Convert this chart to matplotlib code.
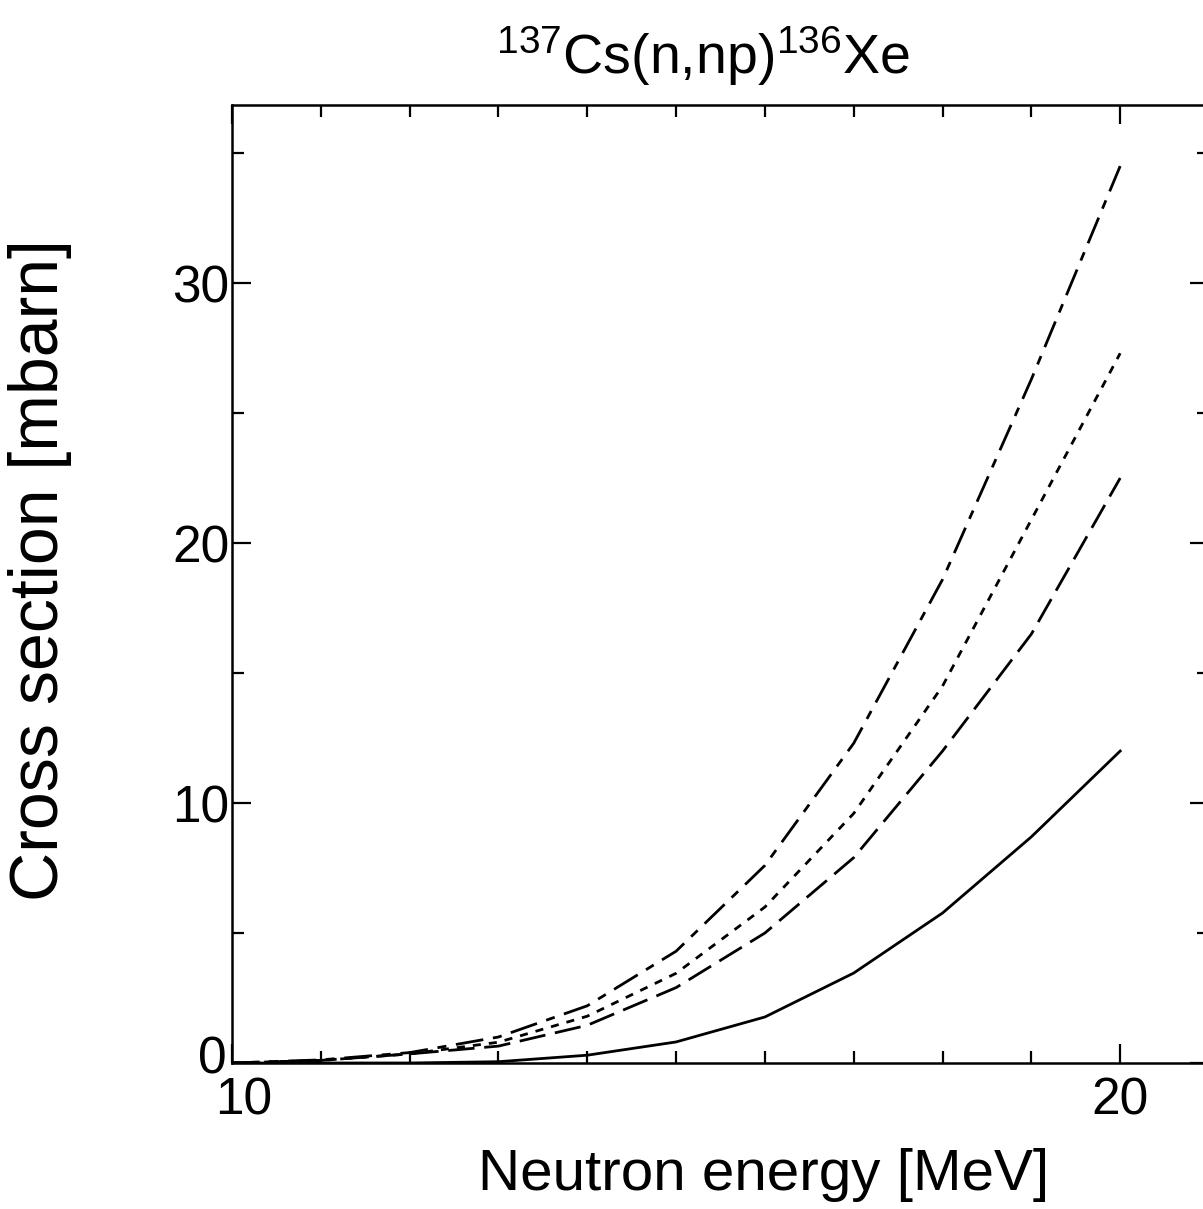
import matplotlib
matplotlib.use("Agg")
import matplotlib.pyplot as plt
import matplotlib.transforms as mtrans
from matplotlib.ticker import MultipleLocator

plt.rcParams['font.family'] = ['Liberation Sans', 'DejaVu Sans']
plt.rcParams['mathtext.fontset'] = 'custom'
plt.rcParams['mathtext.rm'] = 'Liberation Sans'
plt.rcParams['mathtext.default'] = 'regular'
plt.rcParams['lines.scale_dashes'] = False

# neutron energy [MeV]
energy = [10, 11, 12, 13, 14, 15, 16, 17, 18, 19, 20]
# cross sections [mbarn]
sig_solid = [0, 0, 0, 0.05, 0.3, 0.81, 1.77, 3.46, 5.77, 8.7, 12.0]
sig_long = [0, 0.1, 0.35, 0.65, 1.45, 2.9, 5.0, 7.9, 12.0, 16.5, 22.5]
sig_short = [0, 0.1, 0.35, 0.8, 1.8, 3.45, 6.0, 9.6, 14.5, 20.9, 27.3]
sig_dashdot = [0, 0.12, 0.4, 1.0, 2.2, 4.3, 7.6, 12.3, 18.6, 26.3, 34.5]

fig = plt.figure(figsize=(12.03, 12.09), dpi=100)
ax = fig.add_axes([232/1203, 1 - 1063/1209, 977/1203, 958/1209])

lw = 2.0
ax.plot(energy, sig_solid, color='black', lw=lw)
ax.plot(energy, sig_long, color='black', lw=lw, dashes=(19, 7))
ax.plot(energy, sig_short, color='black', lw=lw, dashes=(5.8, 5.8))
ax.plot(energy, sig_dashdot, color='black', lw=lw, dashes=(20, 7, 6.5, 7))

ax.set_xlim(10, 21)
ax.set_ylim(0, 36.85)
ax.xaxis.set_major_locator(MultipleLocator(10))
ax.xaxis.set_minor_locator(MultipleLocator(1))
ax.yaxis.set_major_locator(MultipleLocator(10))
ax.yaxis.set_minor_locator(MultipleLocator(5))
ax.tick_params(which='both', direction='in', top=True, right=True, width=1.6)
ax.tick_params(which='major', length=14, labelsize=37)
ax.tick_params(axis='x', which='major', pad=10)
ax.tick_params(axis='y', which='major', pad=2)
ax.tick_params(which='minor', length=8.5)
for s in ax.spines.values():
    s.set_linewidth(1.8)

# the "10" sits a bit right of its tick, the "0" a bit higher
fig.canvas.draw()
for t in ax.xaxis.get_major_ticks():
    if abs(t.get_loc() - 10) < 1e-6:
        t.label1.set_transform(t.label1.get_transform()
                               + mtrans.ScaledTranslation(0.12, 0, fig.dpi_scale_trans))
for t in ax.yaxis.get_major_ticks():
    if abs(t.get_loc()) < 1e-6:
        t.label1.set_transform(t.label1.get_transform()
                               + mtrans.ScaledTranslation(-0.03, 0.08, fig.dpi_scale_trans))

ax.set_xlabel('Neutron energy [MeV]', fontsize=42)
ax.xaxis.set_label_coords((764 - 232) / 977, (1063 - 1148) / 958)
ax.set_ylabel('Cross section [mbarn]', fontsize=49)
ax.yaxis.set_label_coords((72 - 232) / 977, (1063 - 570) / 958)
ax.set_title(r'$^{137}$Cs(n,np)$^{136}$Xe', fontsize=40, pad=22, x=(703 - 232) / 977)

fig.savefig('out.png', dpi=100)
